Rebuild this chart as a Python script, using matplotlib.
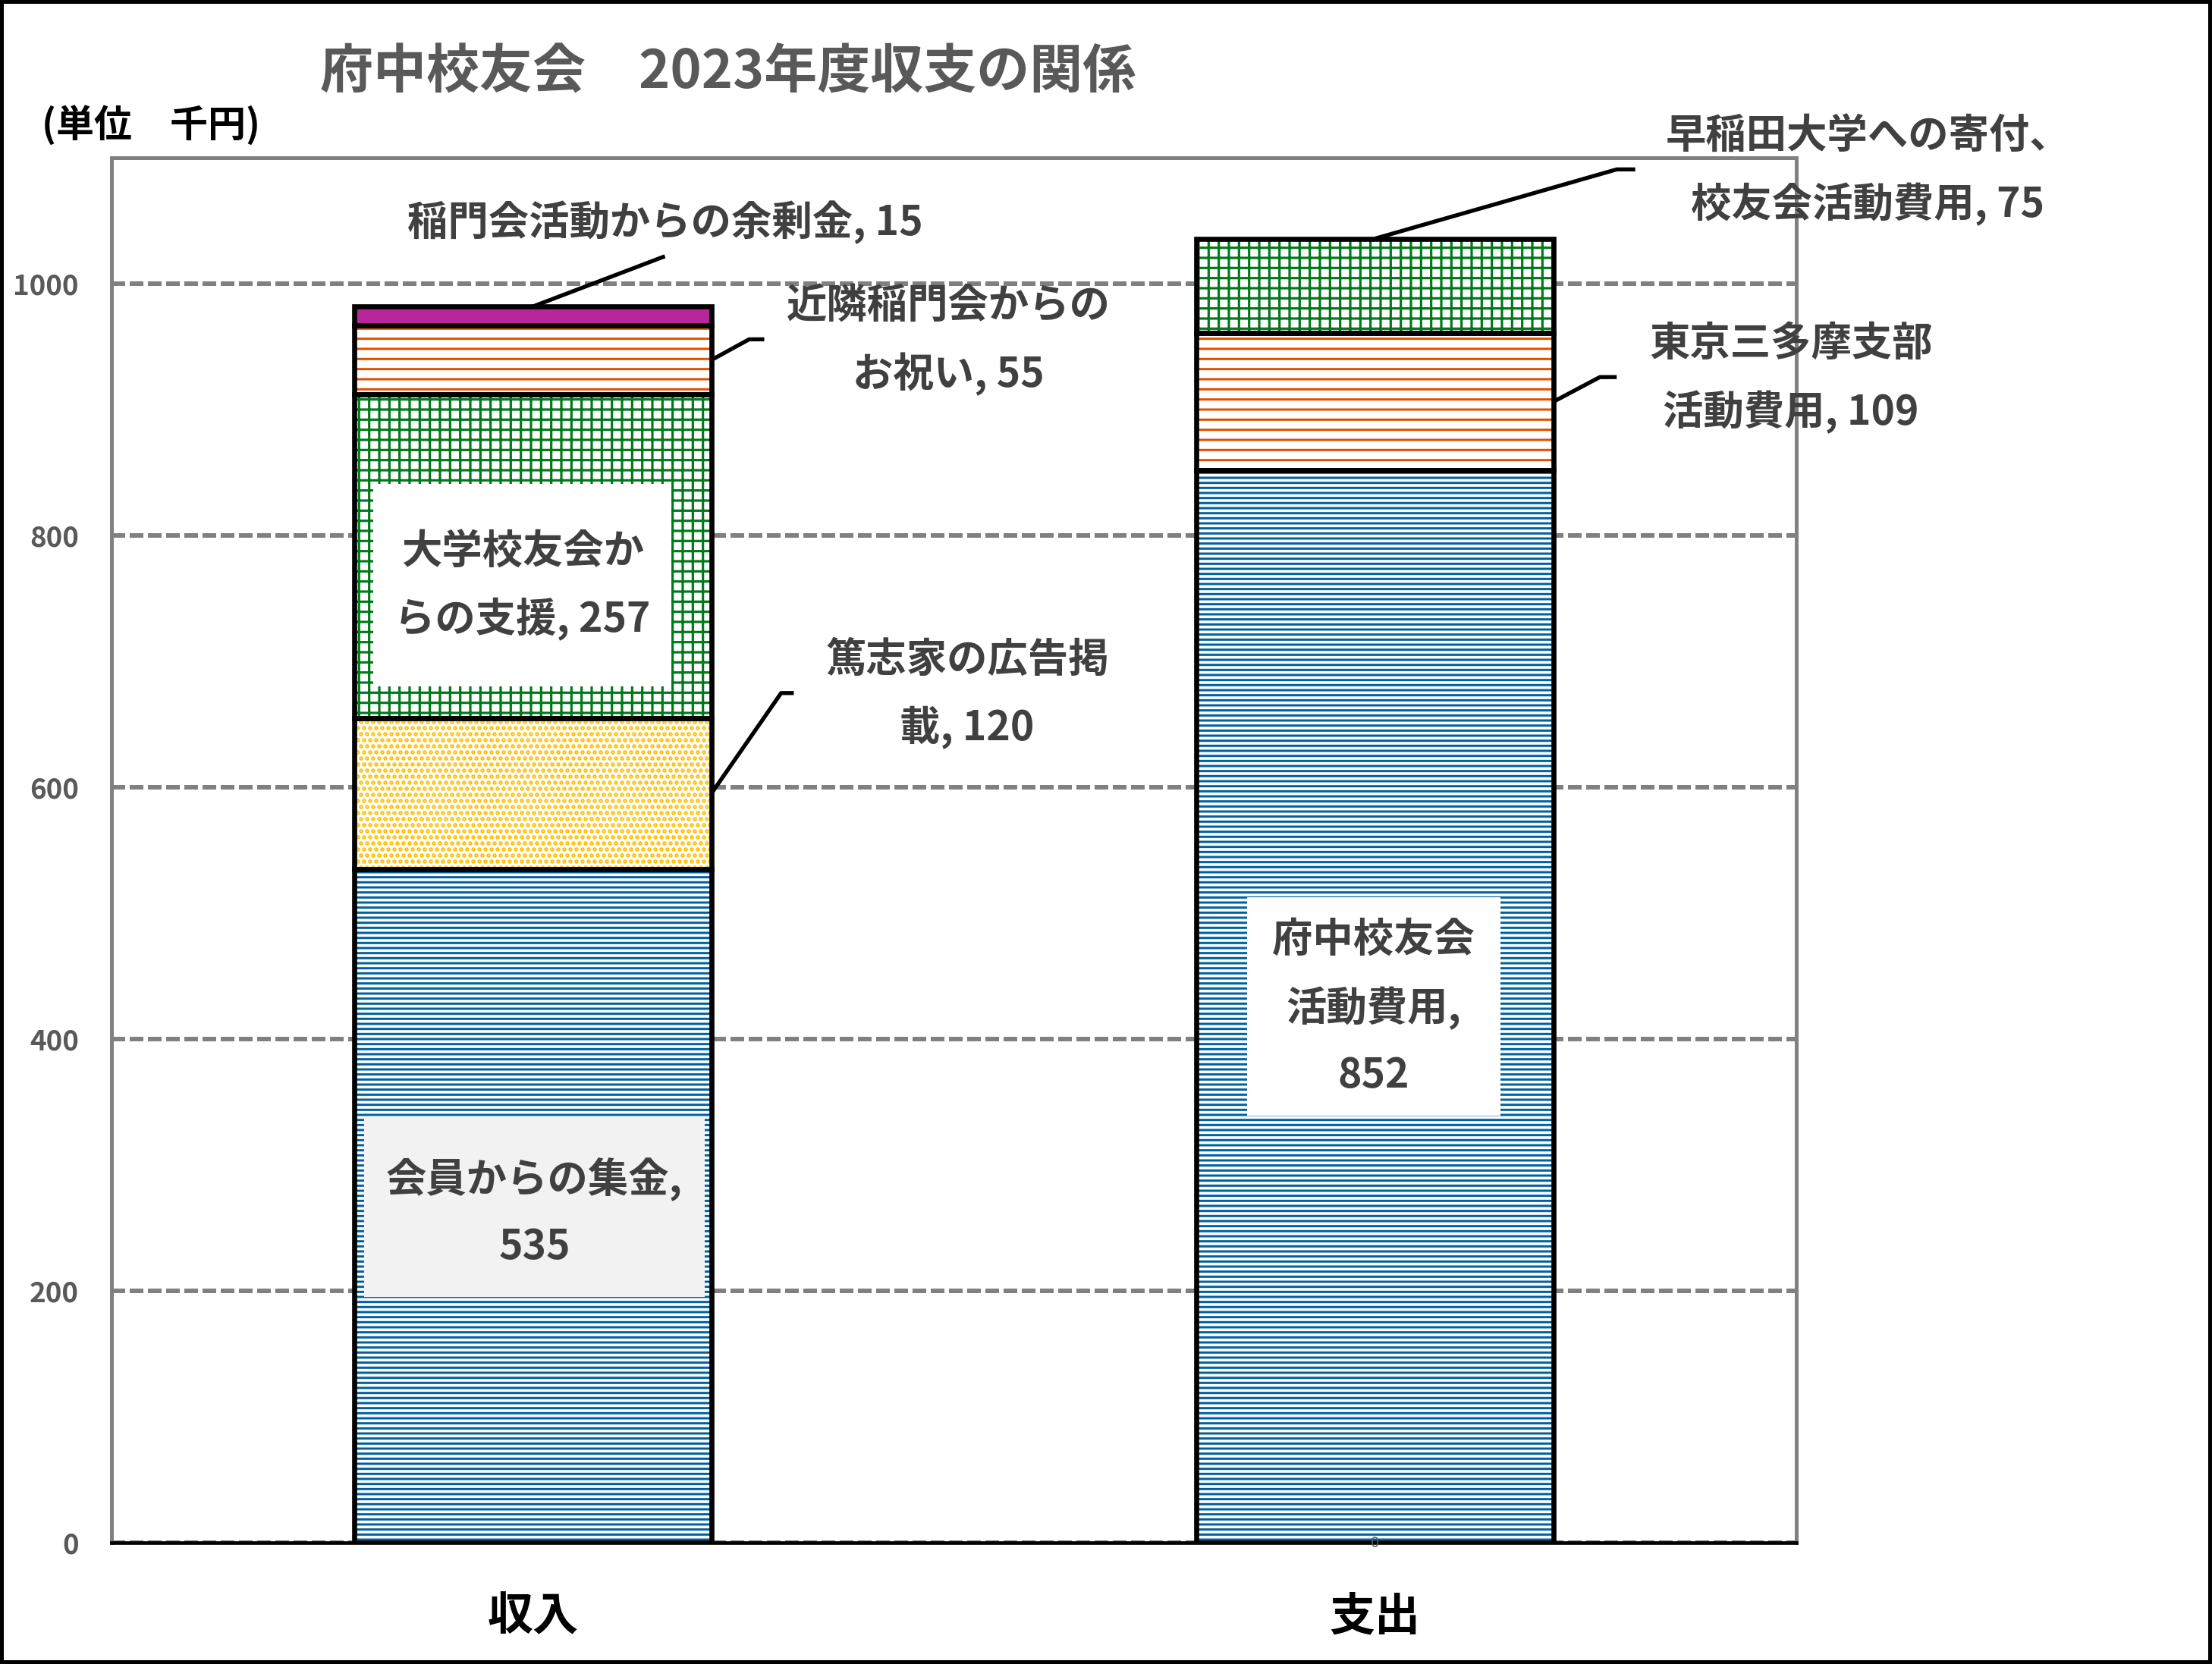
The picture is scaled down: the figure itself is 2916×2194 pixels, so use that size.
import numpy as np
import matplotlib.pyplot as plt
from matplotlib.patches import Rectangle

plt.rcParams['font.family'] = ['Noto Sans CJK JP', 'DejaVu Sans']
plt.rcParams['hatch.linewidth'] = 0.9

# data
categories = ['収入', '支出']

income_names = ['会員からの集金', '篤志家の広告掲載', '大学校友会からの支援',
                '近隣稲門会からのお祝い', '稲門会活動からの余剰金']
income_values = [535, 120, 257, 55, 15]

expense_names = ['府中校友会活動費用', '東京三多摩支部活動費用',
                 '早稲田大学への寄付、校友会活動費用']
expense_values = [852, 109, 75]

yticks = [0, 200, 400, 600, 800, 1000]

# styles: (colour, hatch, hatch width) per segment, bottom to top
income_styles = [('#0060A0', '------', 0.9), ('#FFC000', '.....', 1.15),
                 ('#00791A', '+++', 0.95), ('#E04F00', '---', 0.9),
                 ('#B7279A', None, 0)]
expense_styles = [('#0060A0', '------', 0.9), ('#E04F00', '---', 0.9),
                  ('#00791A', '+++', 0.95)]

# label layout: text position, wrap points, background box (colour, x0, x1, y0, y1), leader elbow
income_label_xy = [(0.002, 262), (0.516, 674), (-0.012, 760), (0.494, 955), (0.157, 1049)]
income_cuts = [[8], [7], [6], [8], []]
income_box = [('#F2F2F2', -0.200, 0.204, 195, 338), None,
              ('white', -0.189, 0.165, 680, 841), None, None]
income_leader = [None, ('side', [(0.295, 675), (0.31, 675)]), None,
                 ('side', [(0.257, 956), (0.275, 956)]), ('top', [(0.157, 1022)])]

expense_label_xy = [(0.998, 425), (1.494, 925), (1.585, 1090)]
expense_cuts = [[5, 10], [7], [10]]
expense_box = [('white', 0.848, 1.149, 339, 513), None, None]
expense_leader = [None, ('side', [(1.267, 926), (1.287, 926)]),
                  ('top', [(1.287, 1091), (1.309, 1091)])]


def wrap(text, cuts):
    '''Break label text at the given character positions.'''
    parts = []
    start = 0
    for c in cuts + [len(text)]:
        parts.append(text[start:c].strip())
        start = c
    return '\n'.join(parts)


fig = plt.figure(figsize=(12.15, 9.1417), dpi=240)
ax = fig.add_axes([0.0504, 0.0729, 0.7616, 0.8321])

width = 0.424
series = [
    (0, income_names, income_values, income_styles, income_label_xy,
     income_cuts, income_box, income_leader),
    (1, expense_names, expense_values, expense_styles, expense_label_xy,
     expense_cuts, expense_box, expense_leader),
]

for xi, names, values, styles, label_xy, cuts, boxes, leaders in series:
    bottoms = np.concatenate([[0], np.cumsum(values)[:-1]])
    for name, v, b, (c, h, hw), xy, cut, box, lead in zip(
            names, values, bottoms, styles, label_xy, cuts, boxes, leaders):
        if h:
            with plt.rc_context({'hatch.linewidth': hw}):
                bars = ax.bar(xi, v, width, bottom=b, color='white', edgecolor=c,
                              hatch=h, linewidth=0, zorder=2)
            for p in bars:
                if hasattr(p, 'set_hatch_linewidth'):
                    p.set_hatch_linewidth(hw)
        else:
            ax.bar(xi, v, width, bottom=b, color=c, linewidth=0, zorder=2)
        ax.bar(xi, v, width, bottom=b, fill=False, edgecolor='black',
               linewidth=2, zorder=3)

        if box:
            fc, x0, x1, y0, y1 = box
            ax.add_patch(Rectangle((x0, y0), x1 - x0, y1 - y0, fc=fc,
                                   ec='none', zorder=4))
        text = wrap(f'{name}, {v}', cut)
        ax.text(xy[0], xy[1], text, ha='center', va='center', fontsize=16,
                fontweight='bold', color='#404040', linespacing=1.75, zorder=5)

        if lead:
            kind, pts = lead
            if kind == 'side':
                start = (xi + width / 2, b + v / 2)
            else:
                start = (xi, b + v)
            lx = [start[0]] + [p[0] for p in pts]
            ly = [start[1]] + [p[1] for p in pts]
            ax.plot(lx, ly, color='black', lw=1.6, clip_on=False, zorder=4,
                    solid_capstyle='butt')

# zero label left under the expense bar
ax.text(1, 0, '0', ha='center', va='center', fontsize=6, color='#595959', zorder=6)

ax.set_xlim(-0.5, 1.5)
ax.set_ylim(0, 1100)
ax.set_xticks([0, 1])
ax.set_xticklabels(categories, fontsize=18, fontweight='bold', color='black')
ax.set_yticks(yticks)
ax.set_yticklabels([str(t) for t in yticks], fontsize=11, fontweight='bold',
                   color='#595959')
ax.tick_params(axis='x', length=0, pad=20)
ax.tick_params(axis='y', length=0, pad=13)

ax.set_axisbelow(True)
ax.yaxis.grid(True, linestyle=(0, (3, 1)), color='#808080', lw=1.8)
ax.xaxis.grid(False)

for side in ['left', 'right', 'top']:
    ax.spines[side].set_color('#808080')
    ax.spines[side].set_linewidth(1.5)
ax.spines['bottom'].set_color('black')
ax.spines['bottom'].set_linewidth(1.4)
ax.spines['bottom'].set_zorder(4)

fig.text(0.329, 0.956, '府中校友会\u30002023年度収支の関係', ha='center',
         va='center', fontsize=21, fontweight='bold', color='#595959')
fig.text(0.019, 0.924, '(単位\u3000千円)', ha='left', va='center',
         fontsize=15, fontweight='bold', color='black')

fig.patches.append(Rectangle((0, 0), 1, 1, transform=fig.transFigure,
                             fill=False, ec='black', lw=3))

fig.savefig('out.png', dpi=240)
